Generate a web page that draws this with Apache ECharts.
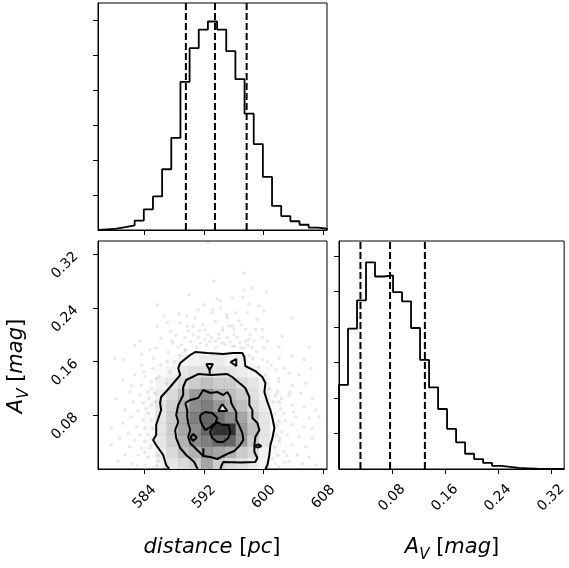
<!DOCTYPE html>
<html><head><meta charset="utf-8">
<script src="https://cdn.jsdelivr.net/npm/echarts@6/dist/echarts.min.js"></script>
<style>html,body{margin:0;padding:0;background:#fff}#c{width:569px;height:568px}</style>
</head><body><div id="c"></div>
<script>
// ---------- data ----------
const distRange = [577.75, 608.5];
const avRange = [0, 0.34];
const distTicks = [584, 592, 600, 608];
const avTicks = [0.08, 0.16, 0.24, 0.32];
const histTicks = [1, 2, 3, 4, 5, 6];
const distHist = [0.02,0.04,0.08,0.13,0.27,0.59,0.96,1.74,2.64,4.24,5.21,5.74,5.97,5.74,5.12,4.32,3.33,2.46,1.52,0.69,0.40,0.25,0.15,0.07,0.04];
const avHist = [2.37,3.95,4.75,5.82,5.42,5.45,4.98,4.72,3.97,3.07,2.30,1.69,1.13,0.75,0.43,0.28,0.17,0.09,0.06,0.03,0.02,0.01,0.005,0,0];
const distQuantiles = [589.55, 593.46, 597.71];
const avQuantiles = [0.0324, 0.0771, 0.1297];
const distHistMax = 6.5;
const avHistMax = 6.42;
// 2D density (20x20 bins), rows from bottom (A_V low) upward, intensity 0..1
const densityRows = [
 [0,0,0,0,0,0.05,0.1,0.15,0.2,0.35,0.2,0.15,0.12,0.08,0.04,0,0,0,0,0],
 [0,0,0,0,0.02,0.08,0.15,0.25,0.3,0.4,0.35,0.3,0.2,0.15,0.06,0.02,0,0,0,0],
 [0,0,0,0,0.02,0.1,0.18,0.3,0.45,0.5,0.6,0.6,0.4,0.2,0.1,0.02,0,0,0,0],
 [0,0,0,0,0.02,0.1,0.2,0.35,0.45,0.6,0.8,0.8,0.4,0.25,0.1,0.02,0,0,0,0],
 [0,0,0,0,0.02,0.1,0.2,0.35,0.5,0.6,0.55,0.45,0.35,0.2,0.1,0.02,0,0,0,0],
 [0,0,0,0,0.02,0.1,0.18,0.3,0.45,0.5,0.4,0.3,0.25,0.15,0.08,0.02,0,0,0,0],
 [0,0,0,0,0.02,0.08,0.15,0.25,0.4,0.45,0.3,0.25,0.2,0.12,0.06,0.02,0,0,0,0],
 [0,0,0,0,0,0.05,0.1,0.15,0.2,0.25,0.2,0.2,0.15,0.1,0.05,0,0,0,0,0],
 [0,0,0,0,0,0.02,0.05,0.1,0.12,0.12,0.1,0.1,0.08,0.05,0.02,0,0,0,0,0],
 [0,0,0,0,0,0,0.02,0.05,0.06,0.08,0.08,0.05,0.05,0.02,0,0,0,0,0,0]
];
const scatterPoints = [
 [592.55,0.338],[585.73,0.245],[586.63,0.228],[588.65,0.231],[589.63,0.228],[587.08,0.218],[588.74,0.218],[585.73,0.213],[589.77,0.213],[590.53,0.213],[591.20,0.237],[593.13,0.238],[589.86,0.206],[591.43,0.206],[592.10,0.207],[583.35,0.191],[582.68,0.184],[587.62,0.191],[587.84,0.188],[589.41,0.196],[591.20,0.196],[592.10,0.193],[593.0,0.196],[584.70,0.178],[585.60,0.180],[588.51,0.181],[589.41,0.176],[587.17,0.174],[583.58,0.171],
 [597.35,0.292],[597.35,0.267],[600.35,0.264],[593.76,0.253],[594.21,0.251],[597.22,0.256],[598.02,0.246],[599.37,0.243],[600.04,0.236],[597.8,0.233],[596.23,0.233],[595.11,0.226],[593.09,0.233],[596.68,0.221],[599.14,0.223],[603.85,0.225],[595.33,0.213],[595.78,0.213],[596.0,0.208],[597.57,0.208],[594.44,0.206],[593.99,0.201],[598.92,0.208],[599.82,0.208],[602.51,0.198],[595.11,0.196],[596.45,0.196],[598.02,0.193],[599.82,0.196],[593.54,0.191],[594.44,0.188],[597.57,0.191],[598.69,0.191],[600.04,0.181],[602.06,0.182],[606.09,0.182],[595.78,0.183],[596.9,0.181],[598.47,0.181],
 [579.99,0.165],[581.11,0.163],[583.58,0.155],[585.15,0.150],[582.68,0.140],[584.03,0.138],[585.6,0.135],[581.11,0.133],[582.23,0.125],[583.58,0.125],[584.92,0.130],[582.01,0.115],[583.35,0.110],[584.48,0.115],[585.37,0.113],[580.22,0.105],[582.46,0.100],[583.80,0.098],[584.92,0.095],[581.34,0.088],[583.13,0.086],[584.48,0.083],[582.23,0.078],[583.8,0.073],[584.92,0.073],[581.11,0.068],[582.91,0.063],[584.03,0.061],[579.54,0.061],[581.79,0.053],[583.35,0.051],[584.48,0.051],[580.66,0.046],[582.68,0.043],[584.03,0.041],[579.54,0.036],[582.01,0.033],[583.58,0.031],[584.70,0.031],[581.34,0.021],[583.13,0.021],[584.48,0.018],[580.44,0.011],[582.23,0.008],[584.03,0.006],[585.15,0.001],
 [598.02,0.170],[599.82,0.163],[602.06,0.165],[603.85,0.168],[605.42,0.163],[606.32,0.150],[601.61,0.148],[603.40,0.143],[604.75,0.140],[602.06,0.130],[603.85,0.125],[605.65,0.128],[601.83,0.115],[603.40,0.110],[604.97,0.113],[606.54,0.105],[602.06,0.100],[603.85,0.095],[605.42,0.093],[606.99,0.088],[602.73,0.083],[604.30,0.078],[606.09,0.076],[607.44,0.078],[602.06,0.071],[603.85,0.066],[605.42,0.063],[606.54,0.061],[603.18,0.051],[604.75,0.048],[606.54,0.046],[602.06,0.041],[603.85,0.036],[605.65,0.033],[602.73,0.026],[604.52,0.021],[606.09,0.018],[603.40,0.011],[605.20,0.008],[607.0,0.006],[602.06,0.003],
 [585.8,0.02],[586.0,0.045],[585.9,0.066],[586.3,0.09],[586.5,0.11],[586.9,0.128],[587.4,0.145],[588.0,0.16],[588.8,0.17],[589.5,0.178],[591.0,0.182],[592.3,0.185],[593.6,0.181],[594.8,0.186],[596.1,0.183],[597.3,0.18],[598.5,0.165],[599.3,0.152],[600.2,0.14],[600.8,0.12],[601.3,0.1],[601.5,0.082],[601.8,0.066],[601.7,0.05],[601.5,0.032],[601.2,0.015],[585.6,0.005],[584.9,0.035],[585.1,0.06],[585.4,0.1],[586.0,0.138],[587.0,0.16],[600.5,0.16],[602.3,0.09],[602.5,0.055],[601.9,0.02],
 [589.0,0.185],[590.2,0.19],[591.5,0.188],[592.8,0.19],[594.0,0.195],[595.5,0.19],[596.8,0.188],[597.9,0.185],[590.5,0.2],[592.5,0.2],[594.5,0.21],[596.0,0.2],[597.0,0.215],[591.8,0.215],[593.5,0.22],[595.0,0.23],[590.8,0.225],[588.2,0.2],[599.0,0.175],[600.5,0.19],[587.5,0.205],[586.2,0.195],[598.2,0.2],[594.2,0.24],[592.0,0.245],[595.8,0.255],[590.0,0.26],[598.5,0.27],[593.3,0.28],
 [584.2,0.09],[585.0,0.12],[583.9,0.145],[585.2,0.165],[586.2,0.155],[584.6,0.105],[585.0,0.045],[584.0,0.025],[583.0,0.005],[585.9,0.012],[586.8,0.002],[586.2,0.03],
 [601.6,0.11],[602.0,0.135],[601.0,0.155],[602.8,0.15],[602.4,0.105],[602.9,0.072],[602.2,0.045],[601.6,0.008],[603.1,0.02],[602.8,0.01],[604.0,0.085],[603.5,0.115]
];
// contour lines (outermost to innermost)
const contourOuter = [[587.31,0],[586.90,0.0060],[586.50,0.0209],[585.56,0.0358],[585.15,0.0432],[585.56,0.0507],[585.56,0.0656],[586.23,0.0880],[586.09,0.0984],[586.23,0.1074],[587.44,0.1223],[588.79,0.1402],[588.52,0.1506],[588.79,0.1580],[590.13,0.1700],[590.80,0.1744],[592.42,0.1730],[594.57,0.1715],[595.92,0.1730],[597.13,0.1730],[597.40,0.1670],[597.53,0.1536],[598.88,0.1461],[599.82,0.1372],[600.23,0.1282],[600.09,0.1148],[600.50,0.0999],[600.90,0.0880],[601.17,0.0760],[601.44,0.0611],[601.17,0.0462],[600.90,0.0358],[600.76,0.0209],[600.50,0.0060],[600.23,0]];
const contourSecond = [[591.21,-0.002],[590.67,0.0104],[589.59,0.0209],[588.79,0.0313],[588.25,0.0462],[588.11,0.0581],[588.52,0.0701],[588.25,0.0805],[588.52,0.0954],[589.19,0.1103],[589.19,0.1223],[589.59,0.1327],[591.21,0.1416],[592.96,0.1400],[595.11,0.1416],[595.78,0.1372],[596.73,0.1282],[597.53,0.1208],[598.07,0.1074],[598.07,0.0954],[598.48,0.0880],[598.48,0.0760],[599.15,0.0686],[599.42,0.0581],[598.88,0.0477],[598.75,0.0358],[598.75,0.0253],[599.15,0.0164],[598.88,0.0104],[596.86,0.0097],[594.57,0.0104],[594.30,0.0045],[594.17,-0.002]];
const contourThird = [[589.46,0.0984],[590.13,0.1029],[591.21,0.1059],[591.88,0.1178],[592.82,0.1133],[593.77,0.1148],[594.57,0.1103],[595.11,0.1148],[595.52,0.1074],[595.65,0.0984],[595.92,0.0924],[596.32,0.0850],[596.32,0.0731],[596.73,0.0641],[597.13,0.0537],[597.27,0.0432],[596.73,0.0343],[596.05,0.0268],[595.38,0.0239],[594.57,0.0194],[593.77,0.0149],[592.82,0.0179],[591.88,0.0194],[591.07,0.0283],[590.13,0.0388],[589.86,0.0477],[590.13,0.0581],[589.86,0.0686],[589.73,0.0775],[589.73,0.0880],[589.46,0.0984]];
const contourThirdHole = [[594.44,0.0969],[595.11,0.0865],[593.90,0.0865],[594.44,0.0969]];
const contourSmallLoops = [
 [[592.28,0.1565],[593.18,0.1565],[592.73,0.1476],[592.28,0.1565]],
 [[592.73,0.1476],[592.77,0.1416]],
 [[595.52,0.1595],[596.32,0.1640],[596.32,0.1536],[595.52,0.1595]],
 [[598.75,0.0343],[599.28,0.0365],[599.69,0.0343],[599.28,0.0321],[598.75,0.0343]],
 [[591.9,0.0308],[591.9,0.0183]]
];
const contourInner = [
 [[591.48,0.0805],[592.15,0.0850],[593.09,0.0835],[593.77,0.0760],[593.50,0.0686],[592.82,0.0626],[592.15,0.0581],[591.75,0.0656],[591.48,0.0731],[591.48,0.0805]],
 [[593.09,0.0626],[593.77,0.0701],[594.44,0.0656],[595.25,0.0656],[595.52,0.0552],[595.25,0.0462],[594.57,0.0403],[593.77,0.0403],[593.09,0.0462],[592.82,0.0552],[593.09,0.0626]],
 [[590.13,0.0470],[590.54,0.0522],[591.01,0.0470],[590.54,0.0418],[590.13,0.0470]]
];

// ---------- build ----------
const FONT = 'DejaVu Sans';
function stepLine(range, counts) {
  const n = counts.length, w = (range[1] - range[0]) / n;
  const pts = [[range[0], 0]];
  counts.forEach((c, k) => { pts.push([range[0] + k * w, c]); pts.push([range[0] + (k + 1) * w, c]); });
  pts.push([range[1], 0]);
  return pts;
}
const nb = 20;
const dx = (distRange[1] - distRange[0]) / nb, dy = (avRange[1] - avRange[0]) / nb;
const cells = [];
densityRows.forEach((row, j) => row.forEach((v, i) => { if (v > 0) cells.push([i, j, v]); }));

const tickStyle = { show: true, inside: false, length: 5, lineStyle: { color: '#000', width: 1 } };
const axisLine = { show: true, lineStyle: { color: '#000', width: 1 } };
function valAxis(gridIndex, range, extra) {
  return Object.assign({ type: 'value', gridIndex, min: range[0], max: range[1], splitLine: { show: false },
    axisLine, axisLabel: { show: false } }, extra);
}
const labelStyle = { fontFamily: FONT, fontSize: 14, color: '#000' };
const dash = { color: '#000', width: 2, type: [7, 3] };

const series = [];
// top histogram
series.push({ type: 'line', xAxisIndex: 0, yAxisIndex: 0, data: stepLine(distRange, distHist), symbol: 'none',
  lineStyle: { color: '#000', width: 1.8 }, animation: false, z: 3 });
distQuantiles.forEach(q => series.push({ type: 'line', xAxisIndex: 0, yAxisIndex: 0, data: [[q, 0], [q, distHistMax]],
  symbol: 'none', lineStyle: dash, animation: false, z: 4 }));
// right histogram
series.push({ type: 'line', xAxisIndex: 2, yAxisIndex: 2, data: stepLine(avRange, avHist), symbol: 'none',
  lineStyle: { color: '#000', width: 1.8 }, animation: false, z: 3 });
avQuantiles.forEach(q => series.push({ type: 'line', xAxisIndex: 2, yAxisIndex: 2, data: [[q, 0], [q, avHistMax]],
  symbol: 'none', lineStyle: dash, animation: false, z: 4 }));
// 2D: points
series.push({ type: 'scatter', xAxisIndex: 1, yAxisIndex: 1, data: scatterPoints, symbolSize: 3.5,
  itemStyle: { color: 'rgba(0,0,0,0.11)' }, animation: false, z: 1, silent: true });
// white base under outer contour
function polySeries(pts, fill, z) {
  return { type: 'custom', xAxisIndex: 1, yAxisIndex: 1, data: [[0]], animation: false, z, silent: true, clip: true,
    renderItem: (params, api) => ({ type: 'polygon', shape: { points: pts.map(p => api.coord(p)) }, style: { fill } }) };
}
series.push(polySeries(contourOuter, '#fff', 2));
// density cells
series.push({ type: 'custom', xAxisIndex: 1, yAxisIndex: 1, data: cells, animation: false, z: 3, silent: true, clip: true,
  renderItem: (params, api) => {
    const i = api.value(0), j = api.value(1), v = api.value(2);
    const p0 = api.coord([distRange[0] + i * dx, avRange[0] + (j + 1) * dy]);
    const p1 = api.coord([distRange[0] + (i + 1) * dx, avRange[0] + j * dy]);
    return { type: 'rect', shape: { x: p0[0], y: p0[1], width: p1[0] - p0[0] + 0.3, height: p1[1] - p0[1] + 0.3 },
      style: { fill: 'rgba(0,0,0,' + v + ')' } };
  } });
series.push(polySeries(contourThirdHole, 'rgba(255,255,255,0.85)', 4));
// contours
const allContours = [contourOuter, contourSecond, contourThird, contourThirdHole].concat(contourSmallLoops, contourInner);
allContours.forEach(c => series.push({ type: 'line', xAxisIndex: 1, yAxisIndex: 1, data: c, symbol: 'none',
  lineStyle: { color: '#000', width: 2 }, animation: false, z: 5, clip: true }));

const richI = { fontFamily: FONT, fontSize: 21, fontStyle: 'italic', lineHeight: 30, verticalAlign: 'middle' };
const richS = { fontFamily: FONT, fontSize: 15, fontStyle: 'italic', lineHeight: 15, verticalAlign: 'bottom' };
const option = {
  backgroundColor: '#fff',
  animation: false,
  grid: [
    { left: 98, top: 3, width: 229, height: 227, show: true, borderColor: '#000', borderWidth: 1, backgroundColor: 'transparent' },
    { left: 98, top: 241, width: 229, height: 228, show: true, borderColor: '#000', borderWidth: 1, backgroundColor: 'transparent' },
    { left: 339, top: 241, width: 228, height: 228, show: true, borderColor: '#000', borderWidth: 1, backgroundColor: 'transparent' }
  ],
  xAxis: [
    valAxis(0, distRange, { axisTick: Object.assign({ customValues: distTicks }, tickStyle) }),
    valAxis(1, distRange, { axisTick: Object.assign({ customValues: distTicks }, tickStyle),
      axisLabel: Object.assign({ show: true, customValues: distTicks, rotate: 45, align: 'center', verticalAlign: 'middle', margin: 28,
        formatter: v => String(Math.round(v)) }, labelStyle) }),
    valAxis(2, avRange, { axisTick: Object.assign({ customValues: avTicks }, tickStyle),
      axisLabel: Object.assign({ show: true, customValues: avTicks, rotate: 45, align: 'center', verticalAlign: 'middle', margin: 29,
        formatter: v => v.toFixed(2) }, labelStyle) })
  ],
  yAxis: [
    valAxis(0, [0, distHistMax], { axisTick: Object.assign({ customValues: histTicks }, tickStyle) }),
    valAxis(1, avRange, { axisTick: Object.assign({ customValues: avTicks }, tickStyle),
      axisLabel: Object.assign({ show: true, customValues: avTicks, rotate: 45, align: 'right', verticalAlign: 'middle', margin: 22,
        formatter: v => v.toFixed(2) }, labelStyle) }),
    valAxis(2, [0, avHistMax], { axisTick: Object.assign({ customValues: histTicks }, tickStyle) })
  ],
  graphic: [
    { type: 'text', x: 212, y: 548, style: { text: '{i|distance} [{i|pc}]', fontFamily: FONT, fontSize: 21, fill: '#000',
      align: 'center', verticalAlign: 'middle', rich: { i: richI } } },
    { type: 'text', x: 452, y: 548, style: { text: '{i|A}{s|V} [{i|mag}]', fontFamily: FONT, fontSize: 21, fill: '#000',
      align: 'center', verticalAlign: 'middle', rich: { i: richI, s: richS } } },
    { type: 'text', x: 17, y: 366, rotation: Math.PI / 2, style: { text: '{i|A}{s|V} [{i|mag}]', fontFamily: FONT, fontSize: 21, fill: '#000',
      align: 'center', verticalAlign: 'middle', rich: { i: richI, s: richS } } }
  ],
  series
};
const chart = echarts.init(document.getElementById('c'), null, { renderer: 'canvas' });
chart.setOption(option);
</script></body></html>
